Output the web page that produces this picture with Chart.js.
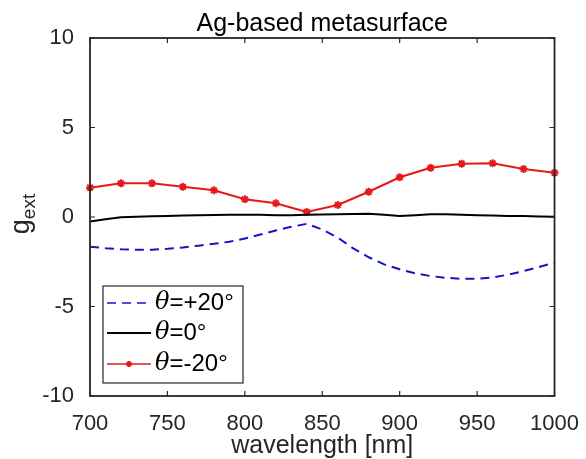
<!DOCTYPE html>
<html>
<head>
<meta charset="utf-8">
<script src="https://cdn.jsdelivr.net/npm/chart.js@4"></script>
<style>
    html, body { margin: 0; padding: 0; background: #ffffff; }
    canvas { display: block; }
</style>
</head>
<body>
<canvas id="gext-chart" width="586" height="459"></canvas>
<script>
// wavelength grid [nm]
const wavelengthFine = [700, 710, 720, 730, 740, 750, 760, 770, 780, 790, 800, 810, 820, 830, 840, 850,
    860, 870, 880, 890, 900, 910, 920, 930, 940, 950, 960, 970, 980, 990, 1000];
const wavelengthMarked = [700, 720, 740, 760, 780, 800, 820, 840, 860, 880, 900, 920, 940, 960, 980, 1000];

// g_ext for the three incidence angles
const gPlus20 = [-1.66, -1.74, -1.80, -1.83, -1.83, -1.78, -1.70, -1.60, -1.50, -1.38, -1.20, -0.98, -0.75, -0.55, -0.38, -0.70,
    -1.15, -1.75, -2.25, -2.65, -2.92, -3.15, -3.30, -3.40, -3.45, -3.45, -3.38, -3.22, -3.02, -2.80, -2.55];
const gZero = [-0.25, -0.12, -0.02, 0.02, 0.04, 0.06, 0.08, 0.10, 0.11, 0.12, 0.12, 0.12, 0.10, 0.10, 0.12, 0.14,
    0.15, 0.17, 0.18, 0.12, 0.05, 0.10, 0.15, 0.15, 0.12, 0.10, 0.08, 0.06, 0.05, 0.03, 0.02];
const gMinus20 = [1.64, 1.88, 1.88, 1.69, 1.49, 0.99, 0.77, 0.28, 0.67, 1.41, 2.22, 2.75, 2.98, 3.00, 2.68, 2.47];

const seriesLabels = ['+20°', '0°', '-20°'];
const xTicks = [700, 750, 800, 850, 900, 950, 1000];
const yTicks = [-10, -5, 0, 5, 10];

const chartTitle = 'Ag-based metasurface';
const xTitle = 'wavelength [nm]';

const axisColor = '#262626';
const fontFamily = '"Liberation Sans", Arial, sans-serif';

function toPoints(xs, ys) {
    return xs.map((x, i) => ({ x: x, y: ys[i] }));
}

// box, inward ticks, titles and legend drawn MATLAB-style
const matlabAxes = {
    id: 'matlabAxes',
    afterDatasetsDraw(chart) {
        const ctx = chart.ctx;
        const area = chart.chartArea;
        const xs = chart.scales.x;
        const ys = chart.scales.y;
        const tick = 5;

        ctx.save();
        ctx.strokeStyle = axisColor;
        ctx.lineWidth = 1.2;
        ctx.beginPath();
        xTicks.forEach(v => {
            const px = xs.getPixelForValue(v);
            ctx.moveTo(px, area.bottom); ctx.lineTo(px, area.bottom - tick);
            ctx.moveTo(px, area.top); ctx.lineTo(px, area.top + tick);
        });
        yTicks.forEach(v => {
            const py = ys.getPixelForValue(v);
            ctx.moveTo(area.left, py); ctx.lineTo(area.left + tick, py);
            ctx.moveTo(area.right, py); ctx.lineTo(area.right - tick, py);
        });
        ctx.stroke();
        ctx.lineWidth = 1.8;
        ctx.strokeRect(area.left, area.top, area.right - area.left, area.bottom - area.top);

        // titles
        const cx = (area.left + area.right) / 2;
        ctx.fillStyle = '#000000';
        ctx.textAlign = 'center';
        ctx.textBaseline = 'alphabetic';
        ctx.font = '25px ' + fontFamily;
        ctx.fillText(chartTitle, cx, 31);
        ctx.fillStyle = axisColor;
        ctx.fillText(xTitle, cx, 453);

        // y label g_ext with subscript
        const cy = (area.top + area.bottom) / 2 - 3;
        ctx.save();
        ctx.translate(29, cy);
        ctx.rotate(-Math.PI / 2);
        ctx.textAlign = 'left';
        ctx.font = '27px ' + fontFamily;
        const wg = ctx.measureText('g').width;
        ctx.font = '19px ' + fontFamily;
        const we = ctx.measureText('ext').width;
        const x0 = -(wg + we) / 2;
        ctx.font = '27px ' + fontFamily;
        ctx.fillText('g', x0, 0);
        ctx.font = '19px ' + fontFamily;
        ctx.fillText('ext', x0 + wg, 6);
        ctx.restore();

        // legend
        const lx = 103, ly = 286, lw = 140, lh = 97;
        ctx.fillStyle = '#ffffff';
        ctx.fillRect(lx, ly, lw, lh);
        ctx.lineWidth = 1.2;
        ctx.strokeStyle = axisColor;
        ctx.strokeRect(lx, ly, lw, lh);
        const rows = [303, 333, 364];
        chart.data.datasets.forEach((ds, i) => {
            const ry = rows[i];
            ctx.save();
            ctx.strokeStyle = ds.borderColor;
            ctx.fillStyle = ds.borderColor;
            ctx.lineWidth = i === 1 ? 2 : 1.5;
            ctx.setLineDash(ds.borderDash || []);
            ctx.beginPath();
            ctx.moveTo(107, ry);
            ctx.lineTo(151, ry);
            ctx.stroke();
            ctx.setLineDash([]);
            if (ds.pointRadius > 0) {
                ctx.lineWidth = 2;
                Chart.helpers.drawPoint(ctx, {
                    pointStyle: ds.pointStyle,
                    radius: 3,
                    borderWidth: 2
                }, 129, ry);
            }
            ctx.restore();
            ctx.fillStyle = '#000000';
            ctx.textAlign = 'left';
            ctx.textBaseline = 'middle';
            ctx.font = 'italic 24px "DejaVu Serif", serif';
            ctx.fillText('θ', 155, ry);
            const wt = ctx.measureText('θ').width;
            ctx.font = '24px ' + fontFamily;
            ctx.fillText('=' + seriesLabels[i], 155 + wt, ry);
        });
        ctx.restore();
    }
};

function displayChart() {
    const ctx = document.getElementById('gext-chart').getContext('2d');
    new Chart(ctx, {
        type: 'line',
        data: {
            datasets: [{
                label: 'θ=' + seriesLabels[0],
                data: toPoints(wavelengthFine, gPlus20),
                borderColor: '#1414c8',
                borderWidth: 2,
                borderDash: [9, 6],
                pointRadius: 0,
                tension: 0,
                fill: false,
                clip: false
            }, {
                label: 'θ=' + seriesLabels[1],
                data: toPoints(wavelengthFine, gZero),
                borderColor: '#000000',
                borderWidth: 2,
                pointRadius: 0,
                tension: 0,
                fill: false,
                clip: false
            }, {
                label: 'θ=' + seriesLabels[2],
                data: toPoints(wavelengthMarked, gMinus20),
                borderColor: '#e61919',
                backgroundColor: '#e61919',
                borderWidth: 2,
                pointStyle: 'star',
                pointRadius: 4,
                pointBorderWidth: 2,
                pointBorderColor: '#e61919',
                tension: 0,
                fill: false,
                clip: false
            }]
        },
        options: {
            responsive: false,
            animation: false,
            devicePixelRatio: 1,
            layout: {
                padding: { top: 38, right: 29, left: 0, bottom: 0 }
            },
            plugins: {
                legend: { display: false },
                tooltip: { enabled: false },
                title: { display: false }
            },
            scales: {
                x: {
                    type: 'linear',
                    min: 700,
                    max: 1000,
                    grid: { display: false },
                    border: { display: false },
                    afterBuildTicks: scale => {
                        scale.ticks = xTicks.map(v => ({ value: v }));
                    },
                    afterFit: scale => { scale.height = 63; },
                    ticks: {
                        autoSkip: false,
                        maxRotation: 0,
                        padding: 7,
                        color: axisColor,
                        font: { family: fontFamily, size: 22 },
                        callback: value => String(value)
                    }
                },
                y: {
                    min: -10,
                    max: 10,
                    grid: { display: false },
                    border: { display: false },
                    afterBuildTicks: scale => {
                        scale.ticks = yTicks.map(v => ({ value: v }));
                    },
                    afterFit: scale => { scale.width = 90; },
                    ticks: {
                        padding: 8,
                        color: axisColor,
                        font: { family: fontFamily, size: 22 },
                        callback: value => String(value)
                    }
                }
            }
        },
        plugins: [matlabAxes]
    });
}

displayChart();
</script>
</body>
</html>
